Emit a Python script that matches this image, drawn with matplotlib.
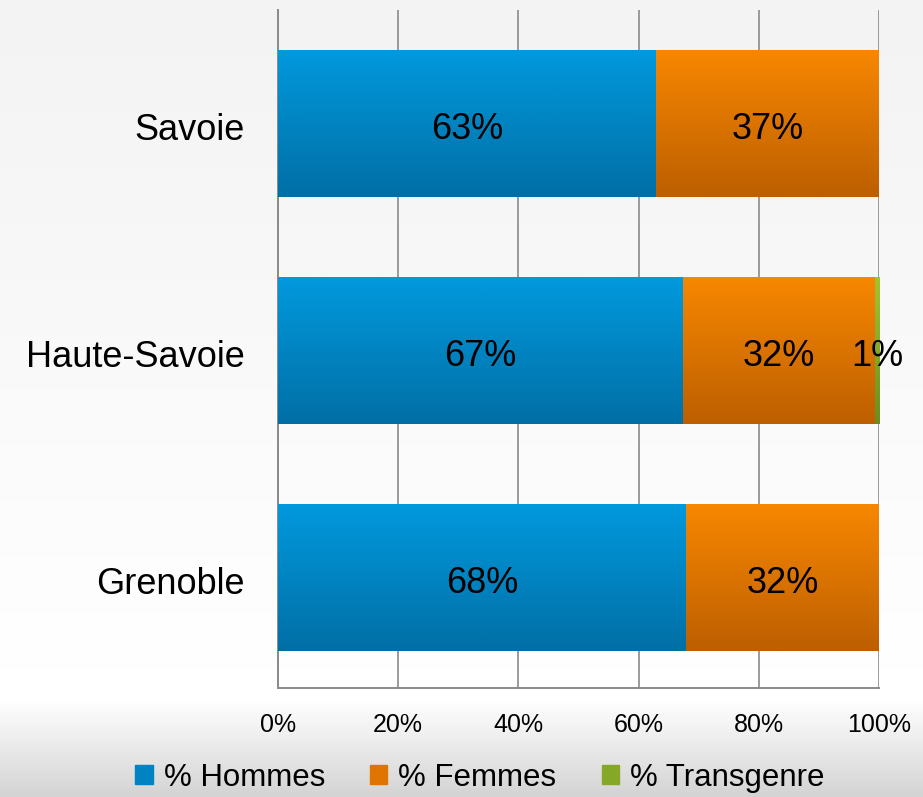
import numpy as np
import matplotlib
matplotlib.use("Agg")
import matplotlib.pyplot as plt
import matplotlib.patches as mpatches
from matplotlib.colors import LinearSegmentedColormap

# data
sites = ["Savoie", "Haute-Savoie", "Grenoble"]
hommes = [62.9, 67.4, 67.9]
femmes = [37.1, 31.9, 32.1]
transgenre = [0.0, 0.7, 0.0]
series_names = ["% Hommes", "% Femmes", "% Transgenre"]
xticks = [0, 20, 40, 60, 80, 100]

# colours (top, bottom) of the bar gradients
GRAD = [("#0199dd", "#016fa6"),
        ("#f78700", "#bd5f00"),
        ("#a2c431", "#6b8c1e")]
SOLID = ["#0182c2", "#e07400", "#86a828"]

plt.rcParams['font.family'] = ['Liberation Sans', 'DejaVu Sans']

fig = plt.figure(figsize=(9.23, 7.97), dpi=100)

# background gradient for the whole figure
bg = fig.add_axes([0, 0, 1, 1], zorder=-10)
bg_cmap = LinearSegmentedColormap.from_list(
    "bg", [(0.0, "#f3f3f3"), (0.84, "#ffffff"), (0.88, "#ffffff"), (1.0, "#d4d4d4")])
bg.imshow(np.linspace(0, 1, 256).reshape(-1, 1), cmap=bg_cmap, aspect='auto',
          extent=(0, 1, 0, 1), origin='upper')
bg.set_axis_off()

ax = fig.add_axes([0.3012, 0.1368, 0.6511, 0.8506])
ax.patch.set_alpha(0)

y = np.arange(len(sites))
left = np.zeros(len(sites))
bar_h = 0.647
for vals, name, (ctop, cbot) in zip([hommes, femmes, transgenre], series_names, GRAD):
    bars = ax.barh(y, vals, left=left, height=bar_h, color=cbot, linewidth=0, zorder=2)
    cmap = LinearSegmentedColormap.from_list(name, [ctop, cbot])
    for b, v in zip(bars, vals):
        if v <= 0:
            continue
        x0, y0, w, h = b.get_x(), b.get_y(), b.get_width(), b.get_height()
        im = ax.imshow(np.linspace(0, 1, 100).reshape(-1, 1), cmap=cmap, aspect='auto',
                       extent=(x0, x0 + w, y0 + h, y0), origin='upper', zorder=3)
        im.set_clip_path(b)
        # label sits a little below the bar centre, like the original
        ax.text(x0 + w / 2, y0 + h / 2 + 0.025, "%d%%" % round(v), ha='center', va='center',
                fontsize=26, color='black', zorder=5)
    left += np.array(vals)

ax.set_xlim(0, 100)
ax.set_ylim(2.487, -0.5)
ax.set_xticks(xticks)
ax.set_xticklabels(["%d%%" % t for t in xticks], fontsize=18)
ax.set_yticks(y + 0.015)
ax.set_yticklabels(sites, fontsize=26)
ax.tick_params(axis='x', length=0, pad=18)
ax.tick_params(axis='y', length=0, pad=24)

ax.grid(axis='x', color='#8a8a8a', linewidth=1.2, zorder=0)
ax.set_axisbelow(True)
for side in ['top', 'right']:
    ax.spines[side].set_visible(False)
for side in ['left', 'bottom']:
    ax.spines[side].set_color('#8a8a8a')
    ax.spines[side].set_linewidth(1.4)

handles = [mpatches.Patch(color=c, label=n) for c, n in zip(SOLID, series_names)]
fig.legend(handles=handles, loc='lower center', bbox_to_anchor=(0.52, -0.03),
           ncol=3, frameon=False, fontsize=22.5, handlelength=0.55, handleheight=0.55,
           handletextpad=0.35, columnspacing=1.45)

fig.savefig("out.png", dpi=100)
